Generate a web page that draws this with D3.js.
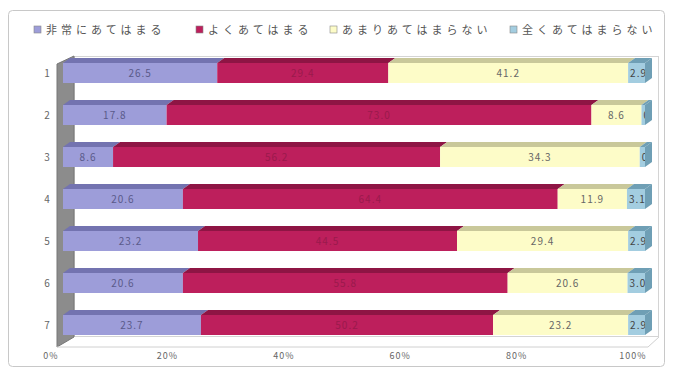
<!DOCTYPE html>
<html>
<head>
<meta charset="utf-8">
<script src="https://cdn.jsdelivr.net/npm/d3@7"></script>
<style>
  body { margin: 0; background: #fff; }
  svg { display: block; font-family: "Noto Sans CJK JP", "DejaVu Sans", sans-serif; }
</style>
</head>
<body>
<div id="chart"></div>
<script>
// Data
const categories = ["1", "2", "3", "4", "5", "6", "7"];
const seriesNames = ["非常にあてはまる", "よくあてはまる", "あまりあてはまらない", "全くあてはまらない"];
const veryTrue = [26.5, 17.8, 8.6, 20.6, 23.2, 20.6, 23.7];
const fairlyTrue = [29.4, 73.0, 56.2, 64.4, 44.5, 55.8, 50.2];
const notVeryTrue = [41.2, 8.6, 34.3, 11.9, 29.4, 20.6, 23.2];
const notAtAllTrue = [2.9, 0.6, 0.9, 3.1, 2.9, 3.0, 2.9];
const tickValues = [0, 20, 40, 60, 80, 100];

const width = 675, height = 371;
const fills = ["#9d9dd9", "#bd1f5c", "#fdfcc8", "#a3cde0"];
const tops = ["#7373b0", "#8e1544", "#c9c89a", "#6f9fb5"];
const labelColors = ["#5a5a8a", "#9a1a4c", "#666", "#444"];

const svg = d3.select("#chart").append("svg")
  .attr("width", width)
  .attr("height", height);

// outer frame
svg.append("rect")
  .attr("x", 8.5).attr("y", 10.5)
  .attr("width", 656).attr("height", 356)
  .attr("rx", 4)
  .attr("fill", "#fff")
  .attr("stroke", "#c8c8c8");

// legend
const legendX = [34, 196, 330, 510];
const legend = svg.append("g");
seriesNames.forEach((name, i) => {
  const g = legend.append("g").attr("transform", `translate(${legendX[i]},30)`);
  g.append("rect")
    .attr("x", 0).attr("y", -4)
    .attr("width", 7).attr("height", 7)
    .attr("fill", fills[i])
    .attr("stroke", "#888").attr("stroke-width", 0.6);
  g.append("text")
    .attr("x", 12).attr("dy", "0.35em")
    .attr("font-size", 11)
    .attr("letter-spacing", 4)
    .attr("fill", "#555")
    .text(name);
});

// scales
const x = d3.scaleLinear().domain([0, 100]).range([63, 645]);
const y = d3.scalePoint().domain(categories).range([73, 325]);
const barH = 20;
const dx = 7, dy = -5;

// plot area back frame
svg.append("rect")
  .attr("x", 74.5).attr("y", 56.5)
  .attr("width", 584).attr("height", 280)
  .attr("fill", "none")
  .attr("stroke", "#d4d4d4");

// left wall
svg.append("polygon")
  .attr("points", [[57, 64], [74, 56], [74, 337], [57, 347]].join(" "))
  .attr("fill", "#8c8c8c")
  .attr("stroke", "#777");

// floor front edge
svg.append("polyline")
  .attr("points", [[57, 347], [648, 347], [659, 337]].join(" "))
  .attr("fill", "none")
  .attr("stroke", "#d0d0d0");

// stacked data
const rows = categories.map((c, i) => {
  const vals = [veryTrue[i], fairlyTrue[i], notVeryTrue[i], notAtAllTrue[i]];
  let acc = 0;
  return vals.map((v, k) => {
    const seg = { cat: c, k, v, x0: acc, x1: acc + v, last: k === vals.length - 1 };
    acc += v;
    return seg;
  });
});

const defs = svg.append("defs");
const bars = svg.append("g");

rows.forEach((segs, r) => {
  const cy = y(categories[r]);
  const yt = cy - barH / 2;
  segs.forEach(s => {
    const a = x(s.x0), b = x(s.x1);
    // top face
    bars.append("polygon")
      .attr("points", [[a, yt], [a + dx, yt + dy], [b + dx, yt + dy], [b, yt]].join(" "))
      .attr("fill", tops[s.k]);
    // front face
    bars.append("rect")
      .attr("x", a).attr("y", yt)
      .attr("width", b - a).attr("height", barH)
      .attr("fill", fills[s.k]);
    if (s.last) {
      bars.append("polygon")
        .attr("points", [[b, yt], [b + dx, yt + dy], [b + dx, yt + dy + barH], [b, yt + barH]].join(" "))
        .attr("fill", tops[s.k]);
    }
    // value label, clipped to its segment
    const id = `clip-${r}-${s.k}`;
    defs.append("clipPath").attr("id", id)
      .append("rect")
      .attr("x", a).attr("y", yt)
      .attr("width", b - a).attr("height", barH);
    bars.append("text")
      .attr("clip-path", `url(#${id})`)
      .attr("x", s.last ? a + 2 : (a + b) / 2)
      .attr("y", cy)
      .attr("dy", "0.35em")
      .attr("text-anchor", s.last ? "start" : "middle")
      .attr("font-size", 10)
      .attr("letter-spacing", 1)
      .attr("fill", labelColors[s.k])
      .text(s.v.toFixed(1));
  });
});

// category labels
svg.append("g")
  .selectAll("text")
  .data(categories)
  .join("text")
  .attr("x", 47)
  .attr("y", d => y(d))
  .attr("dy", "0.35em")
  .attr("text-anchor", "middle")
  .attr("font-size", 10)
  .attr("fill", "#666")
  .text(d => d);

// x tick labels
svg.append("g")
  .selectAll("text")
  .data(tickValues)
  .join("text")
  .attr("x", d => x(d) - 12)
  .attr("y", 356)
  .attr("dy", "0.35em")
  .attr("text-anchor", "middle")
  .attr("font-size", 9)
  .attr("letter-spacing", 1)
  .attr("fill", "#666")
  .text(d => d + "%");
</script>
</body>
</html>
